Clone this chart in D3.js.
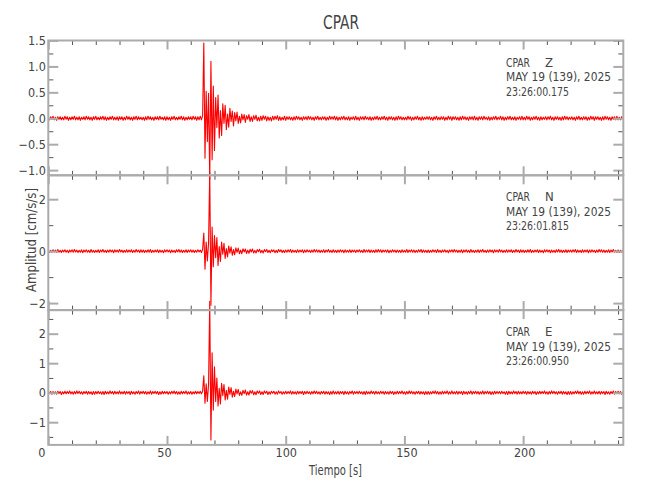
<!DOCTYPE html>
<html><head><meta charset="utf-8">
<script src="https://cdn.jsdelivr.net/npm/d3@7"></script>
<style>
body{margin:0;background:#fff}
svg{display:block}
text{font-family:"Liberation Sans Narrow","DejaVu Sans Condensed",sans-serif;fill:#444}
</style>
</head><body><svg id="chart" width="650" height="500"></svg>
<script>
// ---------- data ----------
const chartTitle = "CPAR";
const station = "CPAR";
const channels = ["Z", "N", "E"];
const dateLabel = "MAY 19 (139), 2025";
const startTimes = ["23:26:00.175", "23:26:01.815", "23:26:00.950"];
const xTitle = "Tiempo [s]";
const yTitle = "Amplitud [cm/s/s]";
const sampleInterval = 0.5; // s
const timeDomain = [0, 242.2];
const xTicksMajor = [0, 50, 100, 150, 200];
const xTicksMinor = [10, 20, 30, 40, 60, 70, 80, 90, 110, 120, 130, 140, 160, 170, 180, 190, 210, 220, 230, 240];

const zDomain = [-1.1, 1.5];
const zTicksMajor = [-1, -0.5, 0, 0.5, 1, 1.5];
const zTicksMinor = [-0.75, -0.25, 0.25, 0.75, 1.25];
const nDomain = [-2.27, 2.92];
const nTicksMajor = [-2, 0, 2];
const nTicksMinor = [-1, 1];
const eDomain = [-1.77, 2.8];
const eTicksMajor = [-1, 0, 1, 2];
const eTicksMinor = [-1.5, -0.5, 0.5, 1.5, 2.5];

const zValues = [
0.02,-0.03,0.03,-0.02,0.04,-0.03,0.02,-0.04,0.03,-0.02,0.03,-0.03,0.02,-0.03,0.04,-0.02,0.03,-0.04,0.02,-0.03,
0.03,-0.02,0.04,-0.03,0.02,-0.03,0.03,-0.04,0.02,-0.02,0.03,-0.03,0.04,-0.02,0.03,-0.03,0.02,-0.04,0.03,-0.02,
0.04,-0.03,0.02,-0.03,0.03,-0.02,0.04,-0.03,0.03,-0.04,0.02,-0.03,0.03,-0.02,0.04,-0.03,0.02,-0.03,0.03,-0.04,
0.03,-0.02,0.03,-0.04,0.02,-0.03,0.04,-0.02,0.03,-0.03,0.02,-0.04,0.03,-0.02,0.04,-0.03,0.03,-0.02,0.02,-0.03,
0.02,-0.04,0.03,-0.03,0.04,-0.02,0.03,-0.03,0.02,-0.04,0.03,-0.02,0.03,-0.03,0.04,-0.02,0.02,-0.03,0.03,-0.04,
0.03,-0.03,0.02,-0.04,0.03,-0.02,0.04,-0.03,0.02,-0.03,0.03,-0.02,0.04,-0.03,0.03,-0.04,0.02,-0.03,0.03,-0.02,
0.03,-0.03,0.04,-0.02,0.03,-0.04,0.03,-0.03,0.04,-0.03,0.05,1.45,-0.77,0.52,-0.45,0.48,-1.18,1.10,-0.80,0.62,
-0.62,0.40,-0.18,0.45,-0.38,0.15,-0.33,0.28,-0.10,0.25,-0.22,0.08,-0.17,0.19,-0.06,0.14,-0.15,0.11,-0.05,0.12,
-0.10,0.04,-0.09,0.08,-0.03,0.07,-0.08,0.05,-0.02,0.07,-0.06,0.03,-0.06,0.05,-0.02,0.06,-0.05,0.02,-0.05,0.04,
-0.04,0.05,-0.02,0.04,-0.05,0.03,-0.04,0.02,-0.05,0.04,-0.03,0.04,-0.02,0.05,-0.04,0.03,-0.04,0.02,-0.03,0.04,
-0.04,0.03,-0.02,0.03,-0.03,0.02,-0.04,0.03,-0.03,0.04,-0.02,0.03,-0.03,0.02,-0.04,0.03,-0.02,0.03,-0.03,0.04,
-0.02,0.03,-0.03,0.02,-0.04,0.03,-0.02,0.04,-0.03,0.02,-0.03,0.03,-0.02,0.03,-0.04,0.02,-0.03,0.04,-0.02,0.03,
-0.02,0.04,-0.03,0.03,-0.04,0.02,-0.03,0.03,-0.02,0.04,-0.03,0.02,-0.03,0.03,-0.04,0.02,-0.02,0.03,-0.03,0.04,
-0.03,0.02,-0.04,0.03,-0.02,0.03,-0.03,0.04,-0.02,0.02,-0.03,0.03,-0.04,0.02,-0.03,0.03,-0.02,0.04,-0.03,0.02,
-0.03,0.03,-0.02,0.04,-0.03,0.02,-0.04,0.03,-0.02,0.03,-0.03,0.02,-0.04,0.03,-0.03,0.04,-0.02,0.03,-0.03,0.02,
-0.03,0.02,-0.03,0.04,-0.02,0.03,-0.04,0.02,-0.03,0.03,-0.02,0.04,-0.03,0.02,-0.04,0.03,-0.03,0.02,-0.02,0.03,
-0.02,0.03,-0.03,0.02,-0.04,0.03,-0.02,0.04,-0.03,0.02,-0.03,0.03,-0.02,0.03,-0.04,0.02,-0.03,0.04,-0.02,0.03,
-0.04,0.03,-0.02,0.03,-0.03,0.02,-0.04,0.03,-0.03,0.04,-0.02,0.03,-0.03,0.02,-0.04,0.03,-0.02,0.03,-0.03,0.04,
-0.03,0.02,-0.04,0.03,-0.02,0.03,-0.03,0.04,-0.02,0.02,-0.03,0.03,-0.04,0.02,-0.03,0.03,-0.02,0.04,-0.03,0.02,
-0.02,0.04,-0.03,0.03,-0.04,0.02,-0.03,0.03,-0.02,0.04,-0.03,0.02,-0.03,0.03,-0.04,0.02,-0.02,0.03,-0.03,0.04,
-0.03,0.02,-0.03,0.04,-0.02,0.03,-0.04,0.02,-0.03,0.03,-0.02,0.04,-0.03,0.02,-0.04,0.03,-0.03,0.02,-0.02,0.03,
-0.03,0.03,-0.02,0.04,-0.03,0.02,-0.04,0.03,-0.02,0.03,-0.03,0.02,-0.04,0.03,-0.03,0.04,-0.02,0.03,-0.03,0.02,
-0.02,0.03,-0.03,0.02,-0.04,0.03,-0.02,0.04,-0.03,0.02,-0.03,0.03,-0.02,0.03,-0.04,0.02,-0.03,0.04,-0.02,0.03,
-0.04,0.03,-0.02,0.03,-0.03,0.02,-0.04,0.03,-0.03,0.04,-0.02,0.03,-0.03,0.02,-0.04,0.03,-0.02,0.03,-0.03,0.04,
-0.03,0.02,-0.03,0.03,-0.02
];

const nValues = [
0.04,-0.05,0.03,-0.04,0.05,-0.03,0.04,-0.05,0.06,-0.04,0.03,-0.05,0.04,-0.03,0.05,-0.04,0.03,-0.06,0.04,-0.03,
0.05,-0.04,0.06,-0.03,0.04,-0.05,0.03,-0.04,0.05,-0.06,0.04,-0.03,0.05,-0.04,0.03,-0.05,0.06,-0.04,0.03,-0.05,
0.03,-0.04,0.05,-0.05,0.04,-0.03,0.06,-0.04,0.03,-0.05,0.04,-0.04,0.05,-0.03,0.04,-0.06,0.05,-0.03,0.04,-0.04,
0.06,-0.03,0.04,-0.05,0.03,-0.04,0.05,-0.04,0.04,-0.03,0.05,-0.05,0.03,-0.04,0.06,-0.03,0.04,-0.05,0.05,-0.04,
0.04,-0.05,0.03,-0.04,0.05,-0.04,0.06,-0.05,0.03,-0.04,0.04,-0.03,0.05,-0.05,0.04,-0.04,0.03,-0.06,0.05,-0.03,
0.05,-0.03,0.04,-0.06,0.04,-0.04,0.03,-0.05,0.05,-0.03,0.06,-0.04,0.04,-0.05,0.03,-0.04,0.05,-0.05,0.04,-0.03,
0.05,-0.04,0.04,-0.05,0.03,-0.04,0.05,-0.03,0.04,-0.05,0.06,0.70,-0.70,0.35,-0.38,0.30,3.05,-2.08,0.93,-0.60,
0.60,-0.25,0.52,-0.55,0.18,-0.40,0.35,-0.12,0.30,-0.28,0.10,-0.22,0.20,-0.08,0.17,-0.16,0.06,-0.14,0.13,-0.05,
0.12,-0.10,0.04,-0.10,0.09,-0.03,0.08,-0.09,0.04,-0.08,0.07,-0.03,0.08,-0.07,0.03,-0.07,0.06,-0.02,0.07,-0.06,
0.03,-0.07,0.06,-0.02,0.06,-0.05,0.03,-0.06,0.05,-0.02,0.05,-0.06,0.03,-0.05,0.06,-0.02,0.05,-0.05,0.03,-0.05,
0.04,-0.04,0.05,-0.03,0.06,-0.05,0.04,-0.04,0.03,-0.05,0.05,-0.04,0.04,-0.03,0.05,-0.06,0.04,-0.04,0.05,-0.03,
0.03,-0.05,0.04,-0.04,0.06,-0.03,0.05,-0.04,0.04,-0.05,0.03,-0.04,0.05,-0.05,0.04,-0.03,0.06,-0.04,0.03,-0.05,
0.05,-0.04,0.03,-0.05,0.04,-0.04,0.05,-0.03,0.04,-0.06,0.05,-0.04,0.03,-0.04,0.05,-0.05,0.04,-0.03,0.04,-0.05,
0.04,-0.03,0.05,-0.04,0.03,-0.05,0.06,-0.04,0.04,-0.03,0.05,-0.05,0.04,-0.04,0.03,-0.05,0.05,-0.04,0.06,-0.03,
0.05,-0.05,0.04,-0.03,0.04,-0.04,0.05,-0.06,0.03,-0.04,0.05,-0.03,0.04,-0.05,0.04,-0.04,0.03,-0.05,0.05,-0.04,
0.03,-0.04,0.06,-0.05,0.04,-0.03,0.05,-0.04,0.04,-0.05,0.03,-0.04,0.05,-0.03,0.06,-0.05,0.04,-0.04,0.03,-0.05,
0.04,-0.05,0.03,-0.04,0.05,-0.03,0.04,-0.05,0.06,-0.04,0.03,-0.05,0.04,-0.03,0.05,-0.04,0.03,-0.06,0.04,-0.03,
0.05,-0.04,0.06,-0.03,0.04,-0.05,0.03,-0.04,0.05,-0.06,0.04,-0.03,0.05,-0.04,0.03,-0.05,0.06,-0.04,0.03,-0.05,
0.03,-0.04,0.05,-0.05,0.04,-0.03,0.06,-0.04,0.03,-0.05,0.04,-0.04,0.05,-0.03,0.04,-0.06,0.05,-0.03,0.04,-0.04,
0.06,-0.03,0.04,-0.05,0.03,-0.04,0.05,-0.04,0.04,-0.03,0.05,-0.05,0.03,-0.04,0.06,-0.03,0.04,-0.05,0.05,-0.04,
0.04,-0.05,0.03,-0.04,0.05,-0.04,0.06,-0.05,0.03,-0.04,0.04,-0.03,0.05,-0.05,0.04,-0.04,0.03,-0.06,0.05,-0.03,
0.05,-0.03,0.04,-0.06,0.04,-0.04,0.03,-0.05,0.05,-0.03,0.06,-0.04,0.04,-0.05,0.03,-0.04,0.05,-0.05,0.04,-0.03,
0.04,-0.04,0.05,-0.03,0.06,-0.05,0.04,-0.04,0.03,-0.05,0.05,-0.04,0.04,-0.03,0.05,-0.06,0.04,-0.04,0.05,-0.03,
0.03,-0.05,0.04,-0.04,0.06,-0.03,0.05,-0.04,0.04,-0.05,0.03,-0.04,0.05,-0.05,0.04,-0.03,0.06,-0.04,0.03,-0.05,
0.04,-0.05,0.03,-0.04,0.04
];

const eValues = [
0.05,-0.03,0.04,-0.05,0.04,-0.04,0.03,-0.05,0.05,-0.03,0.04,-0.06,0.03,-0.04,0.05,-0.04,0.04,-0.03,0.06,-0.04,
0.03,-0.05,0.04,-0.04,0.06,-0.03,0.05,-0.04,0.03,-0.05,0.04,-0.03,0.05,-0.05,0.04,-0.04,0.03,-0.06,0.04,-0.05,
0.04,-0.04,0.05,-0.03,0.03,-0.05,0.04,-0.06,0.05,-0.04,0.03,-0.04,0.06,-0.03,0.04,-0.05,0.05,-0.04,0.03,-0.04,
0.06,-0.04,0.03,-0.04,0.05,-0.05,0.04,-0.03,0.04,-0.06,0.05,-0.04,0.03,-0.05,0.04,-0.03,0.06,-0.05,0.04,-0.03,
0.05,-0.04,0.04,-0.05,0.03,-0.04,0.06,-0.05,0.04,-0.03,0.05,-0.04,0.04,-0.06,0.03,-0.05,0.05,-0.04,0.04,-0.03,
0.04,-0.05,0.03,-0.04,0.05,-0.03,0.06,-0.04,0.04,-0.05,0.03,-0.05,0.05,-0.04,0.04,-0.03,0.06,-0.05,0.03,-0.04,
0.04,-0.05,0.03,-0.04,0.05,-0.04,0.04,-0.03,0.05,-0.04,0.05,0.57,-0.36,0.30,-0.30,0.28,3.10,-1.60,1.35,-0.59,
0.88,-0.30,0.50,-0.45,0.15,-0.38,0.32,-0.10,0.28,-0.25,0.08,-0.22,0.19,-0.06,0.17,-0.15,0.05,-0.13,0.12,-0.04,
0.11,-0.09,0.03,-0.09,0.08,-0.03,0.09,-0.08,0.03,-0.08,0.07,-0.02,0.07,-0.07,0.03,-0.07,0.06,-0.02,0.06,-0.06,
0.03,-0.06,0.06,-0.02,0.05,-0.06,0.03,-0.05,0.05,-0.02,0.05,-0.05,0.03,-0.05,0.06,-0.02,0.04,-0.05,0.03,-0.04,
0.05,-0.04,0.04,-0.03,0.06,-0.05,0.04,-0.04,0.03,-0.05,0.05,-0.04,0.04,-0.03,0.05,-0.06,0.04,-0.04,0.05,-0.03,
0.03,-0.05,0.04,-0.04,0.06,-0.03,0.05,-0.04,0.03,-0.05,0.04,-0.03,0.05,-0.05,0.04,-0.04,0.03,-0.06,0.04,-0.05,
0.06,-0.04,0.03,-0.04,0.05,-0.05,0.04,-0.03,0.04,-0.06,0.05,-0.04,0.03,-0.05,0.04,-0.03,0.06,-0.05,0.04,-0.03,
0.04,-0.04,0.05,-0.03,0.03,-0.05,0.04,-0.06,0.05,-0.04,0.03,-0.04,0.06,-0.03,0.04,-0.05,0.05,-0.04,0.03,-0.04,
0.05,-0.03,0.04,-0.05,0.04,-0.04,0.03,-0.05,0.05,-0.03,0.04,-0.06,0.03,-0.04,0.05,-0.04,0.04,-0.03,0.06,-0.04,
0.03,-0.05,0.04,-0.04,0.06,-0.03,0.05,-0.04,0.03,-0.05,0.04,-0.03,0.05,-0.05,0.04,-0.04,0.03,-0.06,0.04,-0.05,
0.04,-0.05,0.03,-0.04,0.05,-0.03,0.06,-0.04,0.04,-0.05,0.03,-0.05,0.05,-0.04,0.04,-0.03,0.06,-0.05,0.03,-0.04,
0.06,-0.04,0.03,-0.04,0.05,-0.05,0.04,-0.03,0.04,-0.06,0.05,-0.04,0.03,-0.05,0.04,-0.03,0.06,-0.05,0.04,-0.03,
0.05,-0.04,0.04,-0.05,0.03,-0.04,0.06,-0.05,0.04,-0.03,0.05,-0.04,0.04,-0.06,0.03,-0.05,0.05,-0.04,0.04,-0.03,
0.04,-0.04,0.05,-0.03,0.03,-0.05,0.04,-0.06,0.05,-0.04,0.03,-0.04,0.06,-0.03,0.04,-0.05,0.05,-0.04,0.03,-0.04,
0.05,-0.03,0.04,-0.05,0.04,-0.04,0.03,-0.05,0.05,-0.03,0.04,-0.06,0.03,-0.04,0.05,-0.04,0.04,-0.03,0.06,-0.04,
0.03,-0.05,0.04,-0.04,0.06,-0.03,0.05,-0.04,0.03,-0.05,0.04,-0.03,0.05,-0.05,0.04,-0.04,0.03,-0.06,0.04,-0.05,
0.04,-0.05,0.03,-0.04,0.05,-0.03,0.06,-0.04,0.04,-0.05,0.03,-0.05,0.05,-0.04,0.04,-0.03,0.06,-0.05,0.03,-0.04,
0.06,-0.04,0.03,-0.04,0.05,-0.05,0.04,-0.03,0.04,-0.06,0.05,-0.04,0.03,-0.05,0.04,-0.03,0.06,-0.05,0.04,-0.03,
0.05,-0.04,0.04,-0.05,0.03
];

// ---------- layout ----------
const svg = d3.select("#chart");
const plotLeft = 48.3, plotRight = 623.3;
const plotTop = 40.5, panelH = 134.8;
const frameColor = "#ababab";
const minorColor = "#555";
const traceColor = "#ff0000";

const panels = [
  {ch: channels[0], values: zValues, domain: zDomain, major: zTicksMajor, minor: zTicksMinor, time: startTimes[0], fmt: d3.format(".1f")},
  {ch: channels[1], values: nValues, domain: nDomain, major: nTicksMajor, minor: nTicksMinor, time: startTimes[1], fmt: d3.format("d")},
  {ch: channels[2], values: eValues, domain: eDomain, major: eTicksMajor, minor: eTicksMinor, time: startTimes[2], fmt: d3.format("d")}
];

const x = d3.scaleLinear().domain(timeDomain).range([plotLeft, plotRight]);

// helper: condensed text (the reference uses a very narrow stroke font)
function squeeze(sel, len) {
  return sel.attr("textLength", len).attr("lengthAdjust", "spacingAndGlyphs");
}

// title
squeeze(svg.append("text").attr("x", 341).attr("y", 28.5).attr("text-anchor", "middle")
  .style("font-size", "19px").text(chartTitle), 36);

// traces first
panels.forEach((p, i) => {
  const top = plotTop + i * panelH, bot = top + panelH;
  p.y = d3.scaleLinear().domain(p.domain).range([bot, top]);
  p.top = top; p.bot = bot;
  const line = d3.line().x((d, j) => x(j * sampleInterval)).y(d => p.y(d));
  svg.append("path").datum(p.values).attr("d", line)
    .attr("fill", "none").attr("stroke", traceColor).attr("stroke-width", 1.1)
    .attr("stroke-linejoin", "round");
});

function styleAxis(g, color, width) {
  g.select(".domain").remove();
  g.selectAll(".tick line").attr("stroke", color).attr("stroke-width", width);
  g.selectAll(".tick text").style("font-size", "12.5px").attr("fill", "#444");
}

const xLabelNudge = [-7, -3, 0, 2, 1];

panels.forEach((p, i) => {
  const g = svg.append("g");
  const y = p.y;
  // left
  g.append("g").attr("transform", `translate(${plotLeft},0)`)
    .call(d3.axisLeft(y).tickValues(p.minor).tickSize(-5).tickFormat(""))
    .call(a => styleAxis(a, minorColor, 1));
  g.append("g").attr("transform", `translate(${plotLeft},0)`)
    .call(d3.axisLeft(y).tickValues(p.major).tickSize(-10).tickPadding(2.5).tickFormat(d => p.fmt(d).replace("-", "\u2212")))
    .call(a => styleAxis(a, frameColor, 2));
  // right
  g.append("g").attr("transform", `translate(${plotRight},0)`)
    .call(d3.axisRight(y).tickValues(p.minor).tickSize(-5).tickFormat(""))
    .call(a => styleAxis(a, minorColor, 1));
  g.append("g").attr("transform", `translate(${plotRight},0)`)
    .call(d3.axisRight(y).tickValues(p.major).tickSize(-10).tickFormat(""))
    .call(a => styleAxis(a, frameColor, 2));
  // top
  g.append("g").attr("transform", `translate(0,${p.top})`)
    .call(d3.axisTop(x).tickValues(xTicksMinor).tickSize(-4.5).tickFormat(""))
    .call(a => styleAxis(a, minorColor, 1));
  g.append("g").attr("transform", `translate(0,${p.top})`)
    .call(d3.axisTop(x).tickValues(xTicksMajor).tickSize(-9).tickFormat(""))
    .call(a => styleAxis(a, frameColor, 2));
  // bottom
  g.append("g").attr("transform", `translate(0,${p.bot})`)
    .call(d3.axisBottom(x).tickValues(xTicksMinor).tickSize(-4.5).tickFormat(""))
    .call(a => styleAxis(a, minorColor, 1));
  const bx = g.append("g").attr("transform", `translate(0,${p.bot})`)
    .call(d3.axisBottom(x).tickValues(xTicksMajor).tickSize(-9).tickPadding(3.5)
      .tickFormat(i === panels.length - 1 ? d3.format("d") : ""))
    .call(a => styleAxis(a, frameColor, 2));
  bx.selectAll(".tick text").attr("dx", (d, k) => xLabelNudge[k]);
  // frame
  g.append("rect").attr("x", plotLeft).attr("y", p.top)
    .attr("width", plotRight - plotLeft).attr("height", panelH)
    .attr("fill", "none").attr("stroke", frameColor).attr("stroke-width", 2);
  // annotation
  squeeze(g.append("text").style("font-size", "13px").attr("x", 506).attr("y", p.top + 26).text(station), 24);
  g.append("text").style("font-size", "13px").attr("x", 545).attr("y", p.top + 26).text(p.ch);
  squeeze(g.append("text").style("font-size", "13px").attr("x", 506).attr("y", p.top + 40.5).text(dateLabel), 105);
  squeeze(g.append("text").style("font-size", "13px").attr("x", 506).attr("y", p.top + 55).text(p.time), 63);
});

// axis titles
squeeze(svg.append("text").attr("x", 335.5).attr("y", 475).attr("text-anchor", "middle")
  .style("font-size", "14px").text(xTitle), 53);
squeeze(svg.append("text").attr("transform", "translate(36,240) rotate(-90)").attr("text-anchor", "middle")
  .style("font-size", "14px").text(yTitle), 104);
</script>
</body></html>
